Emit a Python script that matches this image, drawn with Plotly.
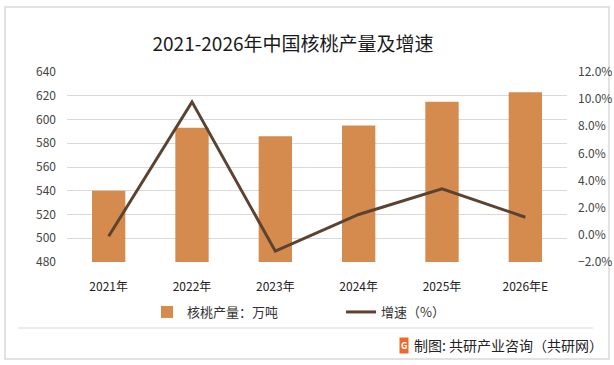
import plotly.graph_objects as go

years = ["2021年", "2022年", "2023年", "2024年", "2025年", "2026年E"]
output = [540, 593, 586, 595, 615, 623]          # 核桃产量：万吨
growth = [-0.1, 9.8, -1.2, 1.5, 3.4, 1.3]        # 增速（%）

W, H = 614, 365
L, R, T, B = 67, 567, 72, 262
FONT = "Noto Sans CJK SC, Microsoft YaHei, sans-serif"


def px(x):
    return (x - L) / (R - L)


def py(y):
    return (B - y) / (B - T)


fig = go.Figure()
fig.add_trace(go.Bar(
    x=years, y=output, name="核桃产量：万吨",
    marker=dict(color="#D58B4E", line=dict(width=0)),
    width=0.4, yaxis="y",
))
fig.add_trace(go.Scatter(
    x=years, y=[g / 100 for g in growth], name="增速（%）",
    mode="lines", line=dict(color="#5C4331", width=3),
    yaxis="y2",
))

fig.update_layout(
    width=W, height=H,
    margin=dict(l=L, r=W - R, t=T, b=H - B, autoexpand=False),
    paper_bgcolor="white", plot_bgcolor="white",
    font=dict(family=FONT, size=12, color="#333333"),
    title=dict(text="2021-2026年中国核桃产量及增速", x=293 / W, xanchor="center",
               y=1 - 44 / H, yanchor="middle",
               font=dict(size=19, color="#1a1a1a", family=FONT)),
    xaxis=dict(showline=False, showgrid=False, ticks="", ticklabelstandoff=16,
               automargin=False, tickfont=dict(size=12, color="#222222")),
    yaxis=dict(range=[480, 640], dtick=20, showgrid=True, gridcolor="#d9d9d9",
               gridwidth=1, zeroline=False, showline=False, ticks="", automargin=False,
               ticklabelstandoff=10, tickfont=dict(size=12, color="#444444")),
    yaxis2=dict(range=[-0.02, 0.12], dtick=0.02, tickformat=".1%", overlaying="y",
                side="right", showgrid=False, zeroline=False, showline=False,
                ticks="", automargin=False, ticklabelstandoff=10,
                tickfont=dict(size=12, color="#444444")),
    legend=dict(orientation="h", x=px(147), xanchor="left",
                y=py(312), yanchor="middle",
                entrywidth=149, entrywidthmode="pixels",
                font=dict(size=13, color="#333333"), bgcolor="rgba(0,0,0,0)"),
    showlegend=True,
)

# frame and separator line
fig.add_shape(type="rect", xref="paper", yref="paper",
              x0=px(5), x1=px(609), y0=py(359), y1=py(7),
              line=dict(color="#d9d9d9", width=1.5), fillcolor="rgba(0,0,0,0)", layer="below")
fig.add_shape(type="line", xref="paper", yref="paper",
              x0=px(18), x1=px(593), y0=py(328), y1=py(328),
              line=dict(color="#d9d9d9", width=1))

# footer
fig.add_annotation(xref="paper", yref="paper", x=px(404), y=py(345),
                   text="<b>G</b>", showarrow=False, bgcolor="#F0692A",
                   font=dict(size=9, color="white", family=FONT),
                   borderpad=1, xanchor="center", yanchor="middle")
fig.add_annotation(xref="paper", yref="paper", x=px(412), y=py(345),
                   text="制图: 共研产业咨询（共研网）", showarrow=False,
                   xanchor="left", yanchor="middle",
                   font=dict(size=14, color="#222222", family=FONT))

fig.write_html("out.html", config={"displayModeBar": False},
               post_script="document.body.style.margin='0';")
